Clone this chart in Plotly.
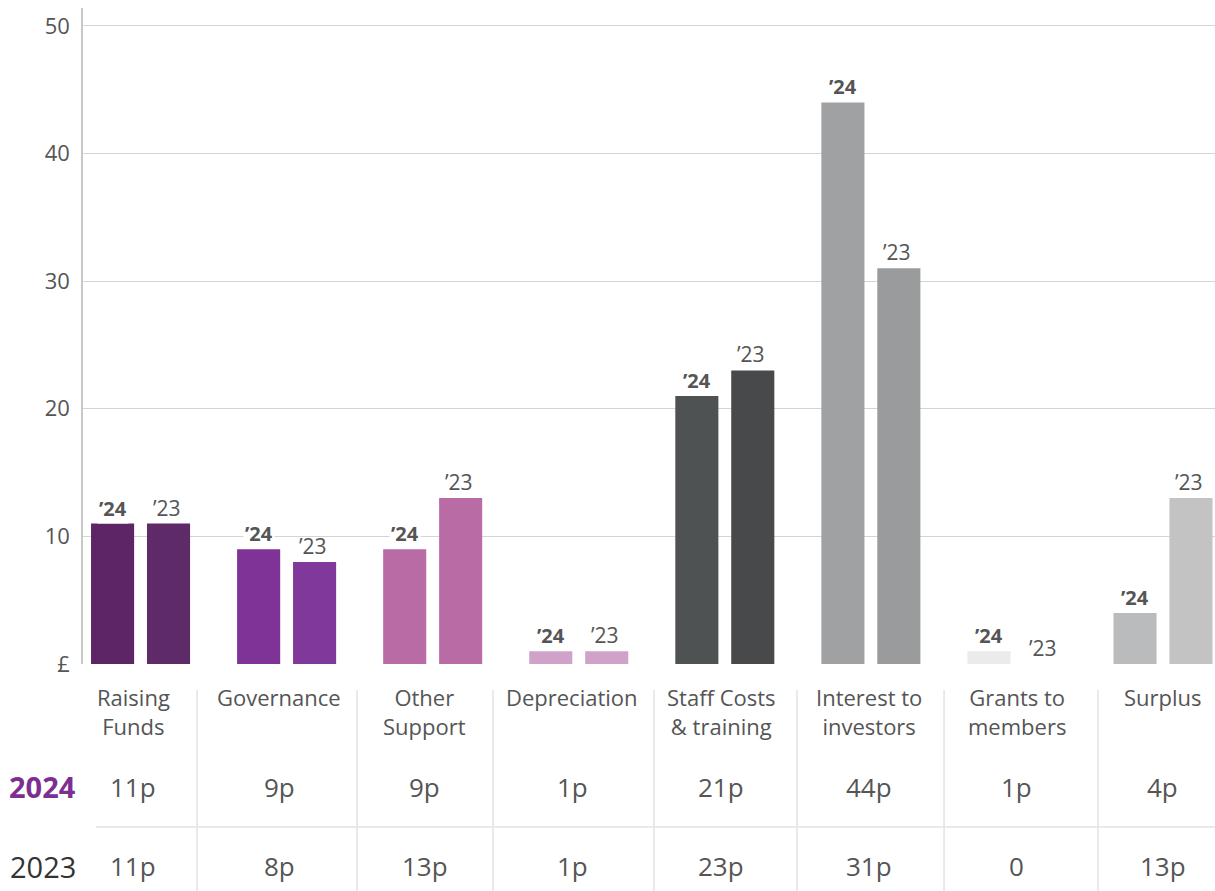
import plotly.graph_objects as go

# ---- data ----
categories = ["Raising<br>Funds", "Governance", "Other<br>Support", "Depreciation",
              "Staff Costs<br>& training", "Interest to<br>investors", "Grants to<br>members", "Surplus"]
values_2024 = [11, 9, 9, 1, 21, 44, 1, 4]
values_2023 = [11, 8, 13, 1, 23, 31, 0, 13]
labels_2024 = ["11p", "9p", "9p", "1p", "21p", "44p", "1p", "4p"]
labels_2023 = ["11p", "8p", "13p", "1p", "23p", "31p", "0", "13p"]
tick_vals = [0, 10, 20, 30, 40, 50]
tick_text = ["£", "10", "20", "30", "40", "50"]

colors_2024 = ["#5d2566", "#7f3396", "#b96ba6", "#d0a2ca", "#4f5253", "#9fa1a2", "#ebebeb", "#b9bbbc"]
colors_2023 = ["#5e2a68", "#80399a", "#b96ba6", "#d0a2ca", "#47494a", "#999b9c", "#ffffff", "#c3c3c3"]

FONT = "Open Sans"
TXT = "#555555"
SEP = "#e3e3e3"

x = list(range(len(categories)))
BW = 0.295
OFF24 = -0.339
OFF23 = 0.044

# table layout (column centres and separators, in x-axis units)
col_centres = [-0.051, 0.948, 1.947, 2.957, 3.974, 4.987, 6.000, 6.998]
separators = [0.387, 1.482, 2.413, 3.515, 4.494, 5.501, 6.555]

fig = go.Figure()
fig.add_trace(go.Bar(x=x, y=values_2024, width=BW, offset=OFF24,
                     marker=dict(color=colors_2024, line=dict(width=0)),
                     name="2024", hoverinfo="skip"))
fig.add_trace(go.Bar(x=x, y=values_2023, width=BW, offset=OFF23,
                     marker=dict(color=colors_2023, line=dict(width=0)),
                     name="2023", hoverinfo="skip"))

annotations = []
for i in x:
    annotations.append(dict(x=i + OFF24 + BW / 2, y=values_2024[i], xref="x", yref="y",
                            text="<b>’24</b>", showarrow=False, yanchor="bottom", yshift=0,
                            bgcolor="white", borderpad=1,
                            font=dict(family=FONT, size=20, color=TXT)))
    annotations.append(dict(x=i + OFF23 + BW / 2, y=values_2023[i], xref="x", yref="y",
                            text="’23", showarrow=False, yanchor="bottom", yshift=0, xshift=-2,
                            font=dict(family=FONT, size=21, color=TXT)))
    # table: category names
    annotations.append(dict(x=col_centres[i], y=-0.0244, xref="x", yref="paper",
                            text=categories[i], showarrow=False, yanchor="top",
                            font=dict(family=FONT, size=22, color=TXT)))
    annotations.append(dict(x=col_centres[i], y=-0.1875, xref="x", yref="paper", text=labels_2024[i],
                            showarrow=False, yanchor="middle",
                            font=dict(family=FONT, size=26, color=TXT)))
    annotations.append(dict(x=col_centres[i], y=-0.308, xref="x", yref="paper", text=labels_2023[i],
                            showarrow=False, yanchor="middle",
                            font=dict(family=FONT, size=26, color=TXT)))

annotations.append(dict(x=-0.0044, y=-0.1860, xref="paper", yref="paper", text="<b>2024</b>",
                        showarrow=False, xanchor="right", yanchor="middle",
                        font=dict(family=FONT, size=29, color="#7d2f91")))
annotations.append(dict(x=-0.0044, y=-0.3080, xref="paper", yref="paper", text="2023",
                        showarrow=False, xanchor="right", yanchor="middle",
                        font=dict(family=FONT, size=29, color="#333333")))

shapes = [dict(type="line", xref="paper", yref="paper", x0=0.0115, x1=1, y0=-0.2485, y1=-0.2485,
               line=dict(color=SEP, width=1.5))]
for s in separators:
    shapes.append(dict(type="line", xref="x", yref="paper", x0=s, x1=s, y0=-0.0396, y1=-0.36,
                       line=dict(color=SEP, width=1.5)))

fig.update_layout(
    width=1215, height=891,
    margin=dict(l=83, r=0, t=8, b=227),
    paper_bgcolor="white", plot_bgcolor="white",
    showlegend=False,
    barmode="overlay",
    font=dict(family=FONT, color=TXT),
    annotations=annotations,
    shapes=shapes,
    xaxis=dict(range=[-0.394, 7.356], showticklabels=False, showgrid=False,
               zeroline=False, showline=False, fixedrange=True),
    yaxis=dict(range=[0, 51.4], tickvals=tick_vals, ticktext=tick_text,
               showgrid=True, gridcolor="#d4d4d4", gridwidth=1.2,
               zeroline=False, showline=True, linecolor="#c8c8c8", linewidth=1.5,
               ticks="", ticklabelstandoff=7,
               tickfont=dict(family=FONT, size=22, color=TXT), fixedrange=True),
)

fig.write_html("out.html", post_script="document.body.style.margin='0';",
               config={"displayModeBar": False})
